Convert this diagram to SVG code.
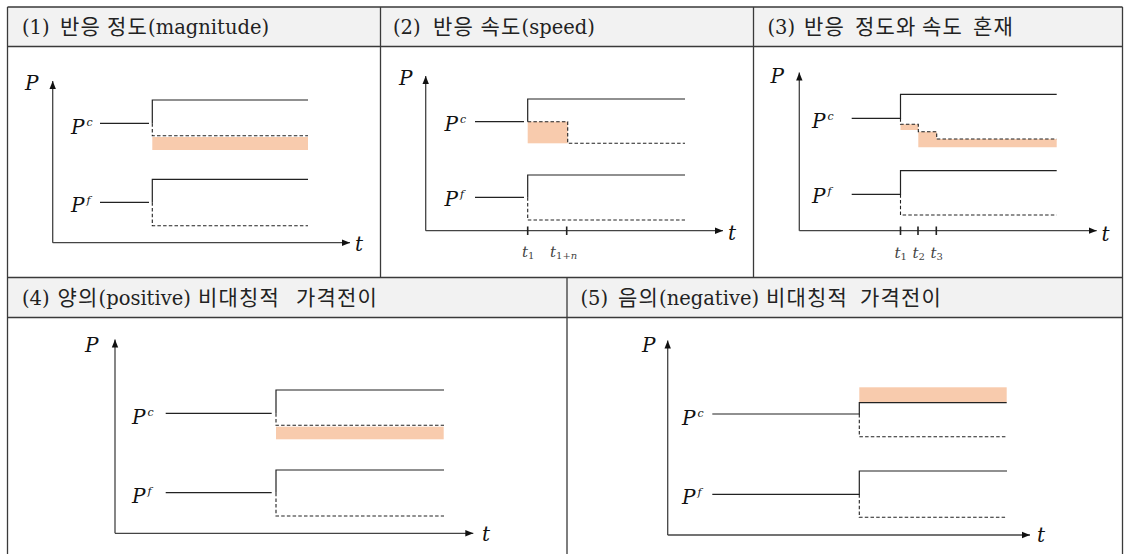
<svg xmlns="http://www.w3.org/2000/svg" width="1124" height="554" viewBox="0 0 1124 554">
<defs>
<marker id="ah" markerUnits="userSpaceOnUse" markerWidth="9" markerHeight="8" refX="8" refY="4" orient="auto">
<path d="M0,0.8 L8,4 L0,7.2 Z" fill="#111"/>
</marker>
</defs>
<style>
.grid{stroke:#3a3a3a;stroke-width:1.3;fill:none}
.hdr{fill:#f2f2f2}
.ht{font-family:'DejaVu Serif','Noto Sans CJK KR',serif;font-size:19.5px;fill:#222}
.ko{font-size:21px;letter-spacing:1.2px}
.ax{stroke:#444;stroke-width:1.3;fill:none;marker-end:url(#ah)}
.sl{stroke:#222;stroke-width:1.2;fill:none}
.dl{stroke:#222;stroke-width:1.1;fill:none;stroke-dasharray:3.5 2.2}
.fill{fill:#F8CBAD}
.lb{font-family:'DejaVu Serif',serif;font-style:italic;font-size:20px;fill:#111}
.sup{font-family:'DejaVu Serif',serif;font-style:italic;font-size:11px;fill:#111}
.tk{stroke:#222;stroke-width:1.6}
.tl{font-family:'DejaVu Serif',serif;font-style:italic;font-size:15px;fill:#444}
.ts{font-style:normal;font-size:10px}
</style>
<rect width="1124" height="554" fill="#fff"/>
<g id="table">
<rect class="hdr" x="7.5" y="7" width="1115" height="39.5"/>
<rect class="hdr" x="7.5" y="277.5" width="1115" height="40"/>
<path class="grid" d="M7.5,7 H1122.5 M7.5,46.5 H1122.5 M7.5,277.5 H1122.5 M7.5,317.5 H1122.5 M7.5,7 V554 M1122.5,7 V554 M380.5,7 V277.5 M753.5,7 V277.5 M567,277.5 V554"/>
<text class="ht" x="22" y="33.5">(1) <tspan class="ko" x="60">반응</tspan> <tspan class="ko" x="107">정도</tspan><tspan>(magnitude)</tspan></text>
<text class="ht" x="393" y="33.5">(2) <tspan class="ko" x="433">반응</tspan> <tspan class="ko" x="480.5">속도</tspan><tspan>(speed)</tspan></text>
<text class="ht" x="767.5" y="33.5">(3) <tspan class="ko" x="804">반응</tspan> <tspan class="ko" x="855">정도와</tspan> <tspan class="ko" x="922">속도</tspan> <tspan class="ko" x="973">혼재</tspan></text>
<text class="ht" x="22" y="305">(4) <tspan class="ko" x="57.5">양의</tspan><tspan>(positive)</tspan> <tspan class="ko" x="198">비대칭적</tspan> <tspan class="ko" x="296">가격전이</tspan></text>
<text class="ht" x="580.5" y="305">(5) <tspan class="ko" x="618">음의</tspan><tspan>(negative)</tspan> <tspan class="ko" x="766">비대칭적</tspan> <tspan class="ko" x="860">가격전이</tspan></text>
</g>
<g id="panel1">
<rect class="fill" x="152.3" y="137" width="155.7" height="13"/>
<path class="ax" d="M52.7,242.7 V81"/>
<path class="ax" d="M52.7,242.7 H350"/>
<text class="lb" x="25" y="90">P</text>
<text class="lb" x="355" y="251">t</text>
<text class="lb" x="71" y="134">P</text><text class="sup" x="86.5" y="126">c</text>
<text class="lb" x="71" y="212">P</text><text class="sup" x="86.5" y="204">f</text>
<path class="sl" d="M100,123.3 H149 M152.3,123.3 V100 H308"/>
<path class="dl" d="M152.3,123.3 V135.7 H308"/>
<path class="sl" d="M100,202.3 H149 M152.3,202.3 V179.3 H308"/>
<path class="dl" d="M152.3,202.3 V225.7 H308"/>
</g>
<g id="panel2">
<rect class="fill" x="527.7" y="121.7" width="40" height="21.6"/>
<path class="ax" d="M425.7,230.7 V76"/>
<path class="ax" d="M425.7,230.7 H723"/>
<text class="lb" x="399" y="85">P</text>
<text class="lb" x="728" y="240">t</text>
<text class="lb" x="444.5" y="131">P</text><text class="sup" x="460" y="123">c</text>
<text class="lb" x="444.5" y="206">P</text><text class="sup" x="460" y="198">f</text>
<path class="sl" d="M475,121.7 H524 M527.7,121.7 V99 H685"/>
<path class="dl" d="M527.7,121.7 H567.7 V143.3 H685"/>
<path class="sl" d="M475,197.3 H524 M527.7,197.3 V175 H685"/>
<path class="dl" d="M527.7,197.3 V220 H685"/>
<path class="tk" d="M527.7,226.5 V235 M566.7,226.5 V235"/>
<text class="tl" x="522" y="256.5">t<tspan class="ts" dy="2.5">1</tspan></text>
<text class="tl" x="550" y="256.5">t<tspan class="ts" dy="2.5">1+<tspan font-style="italic">n</tspan></tspan></text>
</g>
<g id="panel3">
<path class="fill" d="M900.5,124.3 H918.3 V131.7 H936.7 V139 H1056.7 V147.3 H918.3 V130 H900.5 Z"/>
<path class="ax" d="M799.3,230.7 V72.5"/>
<path class="ax" d="M799.3,230.7 H1096.7"/>
<text class="lb" x="770.5" y="83">P</text>
<text class="lb" x="1101.5" y="241">t</text>
<text class="lb" x="812" y="128">P</text><text class="sup" x="827.5" y="120">c</text>
<text class="lb" x="812" y="203">P</text><text class="sup" x="827.5" y="195">f</text>
<path class="sl" d="M851.7,118.3 H900.5 V94.3 H1056.7"/>
<path class="dl" d="M900.5,118.3 V124.3 H918.3 V131.7 H936.7 V139 H1056.7"/>
<path class="sl" d="M851.7,194.3 H900.5 V170.7 H1056.7"/>
<path class="dl" d="M900.5,194.3 V215 H1056.7"/>
<path class="tk" d="M900.5,226.5 V235 M918,226.5 V235 M936.3,226.5 V235"/>
<text class="tl" x="894.5" y="257.5">t<tspan class="ts" dy="2.5">1</tspan></text>
<text class="tl" x="912.5" y="257.5">t<tspan class="ts" dy="2.5">2</tspan></text>
<text class="tl" x="930.5" y="257.5">t<tspan class="ts" dy="2.5">3</tspan></text>
</g>
<g id="panel4">
<rect class="fill" x="276" y="426.7" width="167.7" height="12.6"/>
<path class="ax" d="M115,533.3 V339.5"/>
<path class="ax" d="M115,533.3 H473.3"/>
<text class="lb" x="85" y="351.7">P</text>
<text class="lb" x="482" y="541">t</text>
<text class="lb" x="132" y="424">P</text><text class="sup" x="147.5" y="416">c</text>
<text class="lb" x="132" y="503.3">P</text><text class="sup" x="147.5" y="495.3">f</text>
<path class="sl" d="M165.7,413.3 H271.7 M276,413.3 V390 H444"/>
<path class="dl" d="M276,413.3 V425.3 H444"/>
<path class="sl" d="M165.7,492.7 H271.7 M276,492.7 V470 H444"/>
<path class="dl" d="M276,492.7 V516 H444"/>
</g>
<g id="panel5">
<rect class="fill" x="859.3" y="387.3" width="147.4" height="15"/>
<path class="ax" d="M667.7,535 V340.5"/>
<path class="ax" d="M667.7,535 H1030"/>
<text class="lb" x="642" y="351.7">P</text>
<text class="lb" x="1037" y="542">t</text>
<text class="lb" x="682" y="425">P</text><text class="sup" x="697.5" y="417">c</text>
<text class="lb" x="682" y="504">P</text><text class="sup" x="697.5" y="496">f</text>
<path class="sl" d="M712.3,414 H859.3 V402.7 H1006.7"/>
<path class="dl" d="M859.3,414 V436.7 H1006.7"/>
<path class="sl" d="M712.3,494.3 H859.3 V471 H1007"/>
<path class="dl" d="M859.3,494.3 V517.3 H1007"/>
</g>
</svg>
